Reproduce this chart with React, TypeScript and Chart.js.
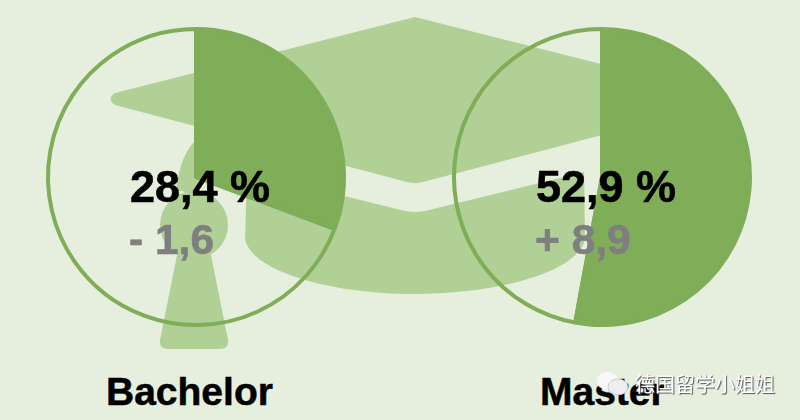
import React, { useEffect, useRef } from "react";
import { Chart, registerables } from "chart.js";

Chart.register(...registerables);

const categories = ["Bachelor", "Master"];
// Slice sizes as drawn in the picture (the Bachelor wedge is drawn a little larger than its label).
const drawnShares = [30.7, 52.9];
const shareLabels = ["28,4 %", "52,9 %"];
const changeLabels = ["- 1,6", "+ 8,9"];
const FONT = '"Liberation Sans", Arial, sans-serif';
const GREEN = "#7fad58";
const CAP = "#b1d095";
const BG = "#e6efdd";

const centers = [196, 602];
const SIZE = 320;
const CY = 177;

function Pie({ value, index }: { value: number; index: number }) {
  const ref = useRef<HTMLCanvasElement>(null);
  useEffect(() => {
    const chart = new Chart(ref.current!, {
      type: "pie",
      data: {
        labels: [categories[index], "Rest"],
        datasets: [
          {
            data: [value, 100 - value],
            backgroundColor: [GREEN, "rgba(0,0,0,0)"],
            borderColor: GREEN,
            borderWidth: 4,
          },
        ],
      },
      options: {
        animation: false,
        responsive: false,
        radius: 148,
        plugins: { legend: { display: false }, tooltip: { enabled: false } },
      },
    });
    return () => chart.destroy();
  }, [value, index]);
  return (
    <canvas
      ref={ref}
      width={SIZE}
      height={SIZE}
      style={{ position: "absolute", left: centers[index] - SIZE / 2, top: CY - SIZE / 2, width: SIZE, height: SIZE }}
    />
  );
}

function Cap() {
  return (
    <svg width={800} height={420} style={{ position: "absolute", left: 0, top: 0 }}>
      <g fill={CAP}>
        <path d="M415 17 L716 93 Q724 99 716 105 L423 182 Q415 184 407 182 L115 105 Q106 99 115 93 Z" />
        <path d="M247 172 L405 211 Q415 213 425 211 L584 172 L585 240 C575 275 490 294 415 294 C340 294 255 275 245 240 Z" />
        <circle cx={194} cy={225} r={34} />
        <path d="M196 140 Q180 155 176 190 L200 195 Z" />
        <path d="M178 250 L210 250 L228 340 Q229 349 220 349 L168 349 Q159 349 160 340 Z" />
      </g>
    </svg>
  );
}

function WechatIcon() {
  return (
    <svg width={800} height={420} style={{ position: "absolute", left: 0, top: 0 }}>
      <ellipse cx={607.5} cy={381} rx={11} ry={9} fill="#f8f8f8" />
      <ellipse cx={618} cy={387} rx={10} ry={8} fill="#eeeeee" stroke="#bbbbbb" strokeWidth={0.7} />
    </svg>
  );
}

function Label({ text, x, y, size, color, extra }: { text: string; x: number; y: number; size: number; color: string; extra?: any }) {
  return (
    <div style={{ position: "absolute", left: x, top: y, font: `bold ${size}px/1 ${FONT}`, color, whiteSpace: "pre", ...extra }}>{text}</div>
  );
}

export default function App() {
  return (
    <div style={{ position: "fixed", left: 0, top: 0, width: 800, height: 420, background: BG, overflow: "hidden" }}>
      <Cap />
      {drawnShares.map((v, i) => (
        <Pie key={categories[i]} value={v} index={i} />
      ))}
      {categories.map((c, i) => (
        <React.Fragment key={c}>
          <Label text={shareLabels[i]} x={centers[i] - 66} y={164} size={45} color="#000" extra={{ WebkitTextStroke: "0.6px #000" }} />
          <Label text={changeLabels[i]} x={centers[i] - 67} y={219} size={42.5} color="#7f7f7f" extra={{ WebkitTextStroke: "0.6px #7f7f7f" }} />
        </React.Fragment>
      ))}
      <Label text={categories[0]} x={106} y={372} size={39} color="#000" extra={{ WebkitTextStroke: "0.5px #000" }} />
      <Label text={categories[1]} x={540} y={372} size={39} color="#000" extra={{ WebkitTextStroke: "0.5px #000" }} />
      <WechatIcon />
      <div style={{ position: "absolute", left: 635, top: 374, font: `20px/1 "Noto Sans CJK SC"`, color: "#fff", whiteSpace: "pre", textShadow: "1px 1px 1px #555" }}>德国留学小姐姐</div>
    </div>
  );
}
